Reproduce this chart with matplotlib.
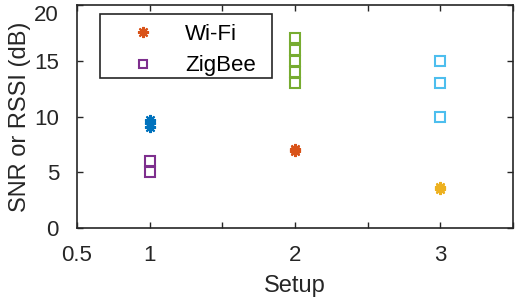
import numpy as np
import matplotlib.pyplot as plt
from matplotlib.patches import Rectangle

plt.rcParams['font.family'] = ['Liberation Sans', 'DejaVu Sans']

# per-setup measurements
wifi_1 = [9.7, 9.4, 9.1]
zig_1 = [6, 5]
wifi_2 = [7.1, 6.9]
zig_2 = [17, 16, 15, 14, 13]
wifi_3 = [3.7, 3.5]
zig_3 = [15, 13, 10]

xticks = [0.5, 1, 1.5, 2, 2.5, 3, 3.5]
xticklabels = ['0.5', '1', '', '2', '', '3', '']

fig = plt.figure(figsize=(5.25, 2.99), dpi=100)
ax = fig.add_axes([77/525, 1 - 228/299, 436/525, 223/299])

star = (8, 2, 0)
ms_s = 8      # asterisk
ms_q = 7.3    # square
mew = 1.5
ax.plot([1]*len(wifi_1), wifi_1, marker=star, ls='none', color='#0072BD', ms=ms_s, mew=mew)
ax.plot([1]*len(zig_1), zig_1, 's', color='#7E2F8E', ms=ms_q, mfc='none', mew=mew)
ax.plot([2]*len(wifi_2), wifi_2, marker=star, ls='none', color='#D95319', ms=ms_s, mew=mew)
ax.plot([2]*len(zig_2), zig_2, 's', color='#77AC30', ms=ms_q, mfc='none', mew=mew)
ax.plot([3]*len(wifi_3), wifi_3, marker=star, ls='none', color='#EDB120', ms=ms_s, mew=mew)
ax.plot([3]*len(zig_3), zig_3, 's', color='#4DBEEE', ms=ms_q, mfc='none', mew=mew)

# legend box drawn by hand (MATLAB-like wide frame)
ax.add_patch(Rectangle((0.053, 0.673), 0.394, 0.287, transform=ax.transAxes,
                       fill=True, facecolor='white', edgecolor='#262626', lw=1.2, zorder=4))
h1, = ax.plot([], [], marker=star, ls='none', color='#D95319', ms=ms_s, mew=mew, label='Wi-Fi')
h2, = ax.plot([], [], 's', color='#7E2F8E', ms=6, mfc='none', mew=mew, label='ZigBee')
leg = ax.legend(handles=[h1, h2], loc='upper left', bbox_to_anchor=(0.1055, 0.915),
                fontsize=16, frameon=False, borderpad=0, handletextpad=0.99,
                borderaxespad=0, handlelength=1.8, labelspacing=0.47)
leg.set_zorder(5)

ax.set_xlim(0.5, 3.5)
ax.set_ylim(0, 20)
ax.set_xticks(xticks)
ax.set_xticklabels(xticklabels)
ax.set_yticks([0, 5, 10, 15, 20])
ax.tick_params(direction='in', top=True, right=True, labelsize=16, colors='#262626',
               length=4, width=1)
ax.tick_params(axis='x', pad=12)
ax.tick_params(axis='y', pad=13)
ax.get_yticklabels()[-1].set_va('top')
for s in ax.spines.values():
    s.set_color('#262626')
    s.set_linewidth(1.2)
ax.set_xlabel('Setup', fontsize=17, color='#262626', labelpad=7)
ax.set_ylabel('SNR or RSSI (dB)', fontsize=17, color='#262626', labelpad=2.5)

fig.savefig('out.png', dpi=100)
